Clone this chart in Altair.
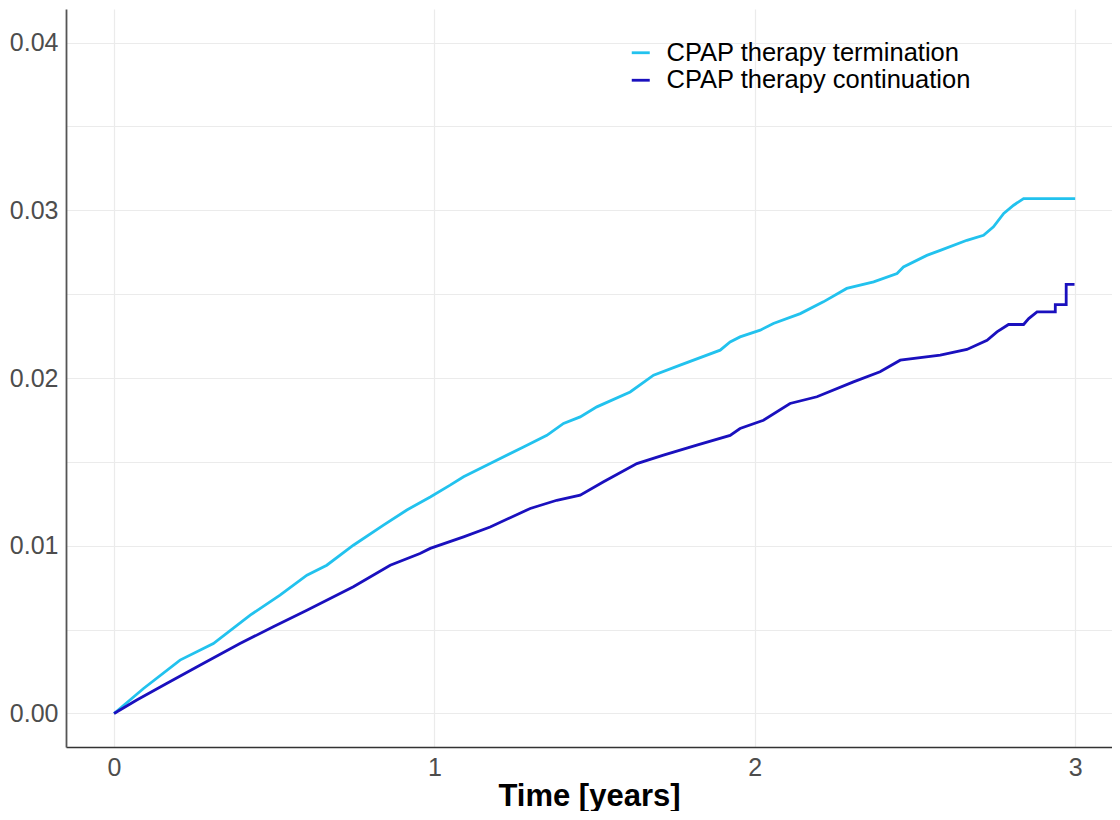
import altair as alt
import pandas as pd

# Cumulative incidence, CPAP therapy termination (light blue)
term_t = [0, 0.092, 0.206, 0.310, 0.425, 0.518, 0.602, 0.664, 0.747, 0.841, 0.914, 0.987,
          1.049, 1.091, 1.174, 1.278, 1.351, 1.403, 1.455, 1.507, 1.611, 1.684, 1.767, 1.892,
          1.923, 1.954, 2.017, 2.058, 2.142, 2.214, 2.287, 2.371, 2.444, 2.464, 2.537, 2.579,
          2.662, 2.714, 2.745, 2.777, 2.808, 2.839, 3.000]
term_y = [0, 0.00149, 0.00318, 0.00417, 0.00586, 0.00705, 0.00824, 0.00884, 0.01003, 0.01123,
          0.01213, 0.01291, 0.01361, 0.01411, 0.01490, 0.01589, 0.01658, 0.01729, 0.01768,
          0.01828, 0.01917, 0.02017, 0.02077, 0.02166, 0.02215, 0.02245, 0.02285, 0.02325,
          0.02384, 0.02454, 0.02534, 0.02573, 0.02623, 0.02662, 0.02731, 0.02761, 0.02821,
          0.02851, 0.02901, 0.02981, 0.03030, 0.03070, 0.03070]

# Cumulative incidence, CPAP therapy continuation (dark blue)
cont_t = [0, 0.071, 0.164, 0.268, 0.393, 0.497, 0.602, 0.747, 0.862, 0.955, 0.987, 1.091,
          1.174, 1.299, 1.382, 1.455, 1.528, 1.632, 1.715, 1.819, 1.923, 1.954, 2.027, 2.110,
          2.194, 2.308, 2.391, 2.454, 2.579, 2.662, 2.725, 2.756, 2.792, 2.839, 2.855, 2.881,
          2.938, 2.938, 2.972, 2.972, 2.998]
cont_y = [0, 0.00080, 0.00179, 0.00288, 0.00417, 0.00517, 0.00616, 0.00755, 0.00884, 0.00954,
          0.00984, 0.01053, 0.01112, 0.01222, 0.01271, 0.01301, 0.01381, 0.01490, 0.01540,
          0.01600, 0.01658, 0.01699, 0.01748, 0.01848, 0.01888, 0.01977, 0.02037, 0.02106,
          0.02136, 0.02170, 0.02225, 0.02275, 0.02319, 0.02319, 0.02354, 0.02394, 0.02394,
          0.02438, 0.02438, 0.02558, 0.02558]

groups = ["CPAP therapy termination", "CPAP therapy continuation"]
colors = ["#22C2EE", "#1A10BE"]

x_ticks = [0, 0.5, 1, 1.5, 2, 2.5, 3]
y_ticks = [0, 0.005, 0.01, 0.015, 0.02, 0.025, 0.03, 0.035, 0.04]

rows = []
for i, (t, y) in enumerate(zip(term_t, term_y)):
    rows.append({"t": t, "y": y, "group": groups[0], "order": i})
for i, (t, y) in enumerate(zip(cont_t, cont_y)):
    rows.append({"t": t, "y": y, "group": groups[1], "order": i})
df = pd.DataFrame(rows)

FONT = "Liberation Sans"

chart = alt.Chart(df).mark_line(strokeWidth=2.8, clip=True).encode(
    x=alt.X("t:Q",
            scale=alt.Scale(domain=[-0.15, 3.115], nice=False, zero=False),
            axis=alt.Axis(title="Time [years]", values=x_ticks,
                          labelExpr="datum.value % 1 == 0 ? datum.label : ''",
                          format="d", ticks=False, labelPadding=8,
                          labelFontSize=25, labelColor="#4D4D4D", labelFont=FONT,
                          titleFontSize=31, titleFontWeight="bold", titleColor="#000000",
                          titleFont=FONT, titleBaseline="alphabetic", titleY=58,
                          domainColor="#333333", domainWidth=1.5,
                          grid=True, gridColor="#EBEBEB", gridWidth=1.2)),
    y=alt.Y("y:Q",
            scale=alt.Scale(domain=[-0.002, 0.042], nice=False, zero=False),
            axis=alt.Axis(title=None, values=y_ticks, format=".2f",
                          labelExpr="(round(datum.value*1000) % 10 == 0) ? datum.label : ''",
                          ticks=False, labelPadding=8,
                          labelFontSize=25, labelColor="#4D4D4D", labelFont=FONT,
                          domainColor="#555555", domainWidth=1.8,
                          grid=True, gridColor="#EBEBEB", gridWidth=1.2)),
    color=alt.Color("group:N",
                    scale=alt.Scale(domain=groups, range=colors),
                    legend=alt.Legend(title=None, orient="none", legendX=562, legendY=31,
                                      symbolType="stroke", symbolSize=324,
                                      symbolStrokeWidth=2.8, labelFontSize=25.5,
                                      labelFont=FONT, labelColor="#000000",
                                      labelOffset=13, rowPadding=0.5, padding=0,
                                      labelLimit=600)),
    order="order:Q",
).properties(
    width=1046,
    height=738,
    padding={"left": 58, "top": 1, "right": 0, "bottom": 64},
    autosize=alt.AutoSizeParams(type="none"),
).configure_view(stroke=None)

chart.save("out.html", embed_options={"renderer": "svg", "actions": False})
